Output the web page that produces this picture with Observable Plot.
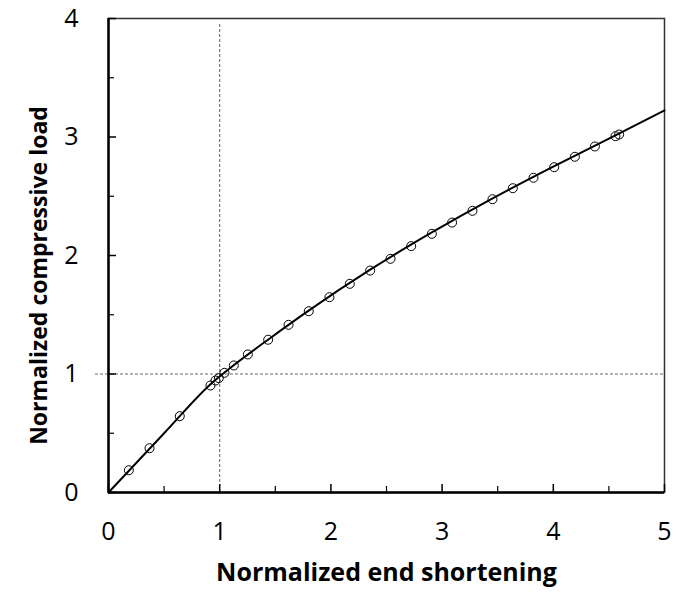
<!DOCTYPE html>
<html>
<head>
<meta charset="utf-8">
<script src="https://cdn.jsdelivr.net/npm/d3@7"></script>
<script src="https://cdn.jsdelivr.net/npm/@observablehq/plot@0.6"></script>
<style>
  html, body { margin: 0; padding: 0; background: #fff; }
  #chart svg { display: block; }
</style>
</head>
<body>
<div id="chart"></div>
<script>
// measured points (circles)
const pointX = [0.183, 0.369, 0.641, 0.917, 0.962, 0.992, 1.043, 1.127, 1.253, 1.436, 1.619, 1.801,
  1.987, 2.170, 2.353, 2.536, 2.722, 2.908, 3.090, 3.273, 3.453, 3.636, 3.822, 4.008, 4.194, 4.374, 4.559, 4.592];
const pointY = [0.188, 0.374, 0.644, 0.903, 0.945, 0.965, 1.010, 1.072, 1.165, 1.289, 1.415, 1.530,
  1.648, 1.761, 1.873, 1.972, 2.079, 2.183, 2.278, 2.377, 2.475, 2.568, 2.656, 2.745, 2.833, 2.920, 3.007, 3.021];
// fitted curve
const curveX = [0, 0.5, 0.93, 1.1, 1.45, 1.8, 2.35, 2.9, 3.45, 4.0, 4.55, 5.0];
const curveY = [0, 0.5, 0.925, 1.055, 1.30, 1.535, 1.878, 2.19, 2.48, 2.75, 3.01, 3.224];
// ticks
const xMajor = [0, 1, 2, 3, 4, 5];
const xMinor = [0.5, 1.5, 2.5, 3.5, 4.5];
const yMajor = [0, 1, 2, 3, 4];
const yMinor = [0.5, 1.5, 2.5, 3.5];
const refX = [1];
const refY = [1];
const xTitle = "Normalized end shortening";
const yTitle = "Normalized compressive load";

const points = pointX.map((x, i) => ({x, y: pointY[i]}));
const curve = curveX.map((x, i) => ({x, y: curveY[i]}));
const FONT = "'Open Sans', Lato, sans-serif";

const chart = Plot.plot({
  width: 686,
  height: 596,
  marginLeft: 108,
  marginRight: 22,
  marginTop: 18,
  marginBottom: 104,
  style: {fontFamily: FONT, background: "#fff", color: "#000"},
  x: {domain: [0, 5]},
  y: {domain: [0, 4]},
  marks: [
    // dashed reference lines
    Plot.ruleX(refX, {y1: 0, y2: 4, insetBottom: -5, stroke: "#666", strokeWidth: 1, strokeDasharray: "3,2"}),
    Plot.ruleY(refY, {x1: 0, x2: 5, insetLeft: -13, stroke: "#666", strokeWidth: 1, strokeDasharray: "3,2"}),
    // frame
    Plot.frame({stroke: "#333", strokeWidth: 1.5}),
    // inward ticks
    Plot.axisX({ticks: xMajor, tickSize: -8, text: null, label: null, strokeWidth: 1.5}),
    Plot.axisX({ticks: xMinor, tickSize: -6, text: null, label: null, strokeWidth: 1.2}),
    Plot.axisY({ticks: yMajor, tickSize: -8, text: null, label: null, strokeWidth: 1.5}),
    Plot.axisY({ticks: yMinor, tickSize: -6, text: null, label: null, strokeWidth: 1.2}),
    // tick labels
    Plot.axisX({ticks: xMajor, tickSize: 0, tickPadding: 30, label: null, fontSize: 25, tickFormat: d => String(d)}),
    Plot.axisY({ticks: yMajor, tickSize: 0, tickPadding: 30, label: null, fontSize: 25, tickFormat: d => String(d)}),
    // thick axes
    Plot.ruleY([0], {stroke: "#000", strokeWidth: 2.5}),
    Plot.ruleX([0], {stroke: "#000", strokeWidth: 2.5}),
    // curve & points
    Plot.line(curve, {x: "x", y: "y", curve: "monotone-x", stroke: "#000", strokeWidth: 2}),
    Plot.dot(points, {x: "x", y: "y", r: 4.5, stroke: "#000", strokeWidth: 1, fill: "none"}),
    // titles
    Plot.text([xTitle], {frameAnchor: "bottom", lineAnchor: "middle", textAnchor: "middle", dy: 80, fontSize: 25, fontWeight: "bold", fill: "#000"}),
    Plot.text([yTitle], {frameAnchor: "left", lineAnchor: "middle", textAnchor: "middle", dx: -69, dy: 20, rotate: -90, fontSize: 23, fontWeight: "bold", fill: "#000"})
  ]
});
document.getElementById("chart").appendChild(chart);
</script>
</body>
</html>
